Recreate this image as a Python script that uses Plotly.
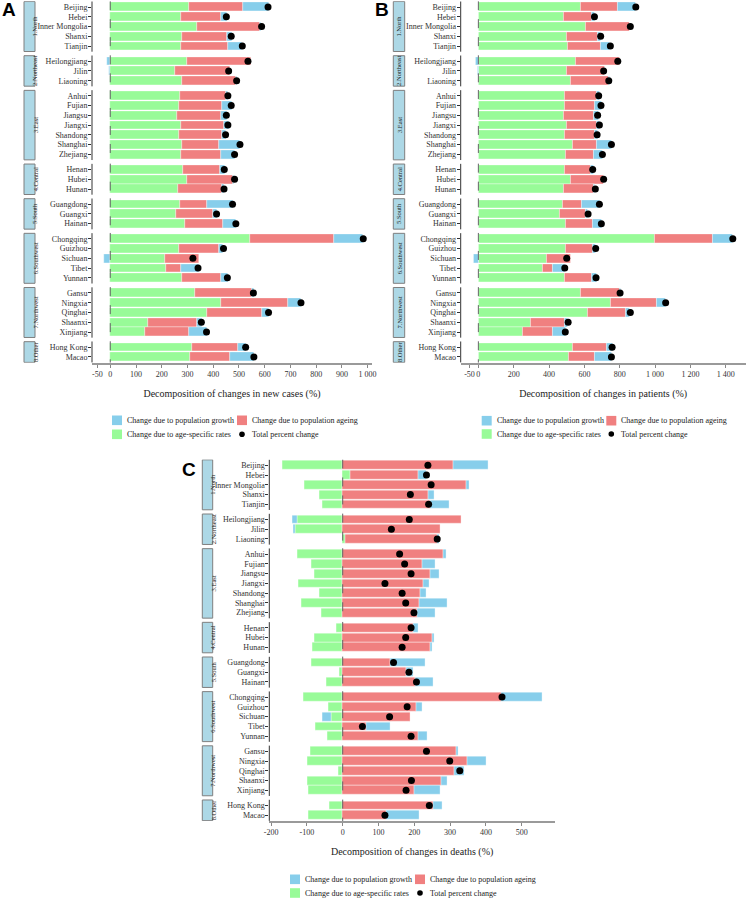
import plotly.graph_objects as go

W, H = 747, 899

provinces = ["Beijing", "Hebei", "Inner Mongolia", "Shanxi", "Tianjin",
             "Heilongjiang", "Jilin", "Liaoning",
             "Anhui", "Fujian", "Jiangsu", "Jiangxi", "Shandong", "Shanghai", "Zhejiang",
             "Henan", "Hubei", "Hunan",
             "Guangdong", "Guangxi", "Hainan",
             "Chongqing", "Guizhou", "Sichuan", "Tibet", "Yunnan",
             "Gansu", "Ningxia", "Qinghai", "Shaanxi", "Xinjiang",
             "Hong Kong", "Macao"]
regions = ["1.North", "2.Northeast", "3.East", "4.Central", "5.South",
           "6.Southwest", "7.Northwest", "8.Other"]
region_sizes = [5, 3, 7, 3, 3, 5, 5, 2]

# Panel A: new cases
cases_rates = [306, 275, 337, 278, 273, 298, 251, 278, 272, 267, 259, 275, 268, 280, 276,
               284, 299, 264, 271, 255, 289, 544, 267, 212, 216, 277, 329, 430, 376, 145, 135,
               317, 310]
cases_ageing = [209, 155, 245, 177, 184, 250, 214, 209, 177, 167, 171, 167, 166, 144, 155,
                143, 179, 171, 106, 143, 149, 325, 157, 134, 60, 153, 223, 260, 215, 193, 169,
                179, 154]
cases_growth = [100, 22, 5, 17, 56, -13, -5, 5, 7, 40, 22, 18, 15, 79, 53,
                17, 4, 5, 100, 17, 50, 114, 15, -23, 67, 27, 5, 51, 26, 17, 73,
                31, 94]
cases_total = [613, 451, 588, 470, 513, 535, 460, 491, 457, 470, 451, 457, 448, 504, 483,
               443, 483, 442, 475, 413, 488, 983, 440, 321, 341, 455, 556, 741, 615, 354, 374,
               526, 558]

# Panel B: patients
pat_rates = [581, 481, 608, 502, 506, 549, 500, 525, 491, 491, 481, 502, 491, 532, 496,
             487, 525, 485, 479, 462, 496, 1000, 492, 389, 366, 491, 577, 751, 617, 296, 249,
             536, 513]
pat_ageing = [210, 159, 247, 173, 188, 253, 215, 211, 181, 169, 174, 166, 166, 140, 155,
              147, 183, 170, 106, 146, 149, 328, 157, 136, 57, 151, 223, 260, 219, 195, 174,
              192, 147]
pat_growth = [100, 20, 3, 17, 51, -15, -4, 5, 12, 38, 24, 17, 16, 81, 52,
              16, 3, 6, 102, 12, 53, 113, 17, -25, 66, 25, 3, 49, 22, 17, 70,
              34, 94]
pat_total = [891, 657, 860, 692, 747, 789, 709, 738, 681, 694, 675, 685, 672, 753, 702,
             647, 709, 662, 685, 621, 696, 1440, 664, 500, 489, 666, 802, 1060, 860, 508, 492,
             757, 753]

# Panel C: deaths
death_rates = [-168, 21, -107, -66, -57, -128, -133, 7, -128, -87, -78, -125, -66, -117, -61,
               -18, -80, -84, -88, -10, -47, -111, -41, -33, -76, -43, -91, -100, -12, -100, -96,
               -37, -97]
death_ageing = [310, 191, 346, 238, 245, 330, 273, 257, 282, 223, 245, 226, 217, 213, 207,
                198, 251, 244, 133, 179, 203, 444, 206, 188, 67, 210, 318, 349, 311, 275, 201,
                252, 121]
death_growth = [97, 22, 8, 18, 53, -14, -5, 6, 7, 37, 24, 17, 17, 80, 53,
                12, 5, 6, 98, 17, 51, 114, 16, -23, 65, 25, 6, 51, 28, 18, 72,
                27, 94]
death_total = [238, 234, 247, 189, 240, 186, 136, 264, 159, 173, 191, 118, 166, 176, 199,
               191, 176, 166, 142, 185, 206, 445, 180, 131, 55, 191, 234, 299, 327, 192, 177,
               242, 118]

ticks_A = [-50, 0, 100, 200, 300, 400, 500, 600, 700, 800, 900, 1000]
ticks_B = [-50, 0, 200, 400, 600, 800, 1000, 1200, 1400]
ticks_C = [-200, -100, 0, 100, 200, 300, 400, 500]

legend_labels = ["Change due to population growth", "Change due to population ageing",
                 "Change due to age-specific rates", "Total percent change"]

C_GREEN, C_RED, C_BLUE = "#98FB98", "#F08080", "#87CEEB"
SERIF = "Liberation Serif"
SANS = "Liberation Sans"

# row positions (facet-like groups)
pos = []
groups = []
p = -1.55
for n in region_sizes:
    p += 1.55
    first = p
    pos.append(p)
    for k in range(1, n):
        p += 1
        pos.append(p)
    groups.append((first, p))
ymax = pos[-1]


def fmt(v):
    s = f"{abs(v):,}".replace(",", " ")
    return ("-" if v < 0 else "") + s


def px_x(v):
    return v / W


def px_y(v):
    return 1 - v / H


panels = [
    dict(sfx="", data=(cases_rates, cases_ageing, cases_growth, cases_total),
         xdom=(92, 372), ytop=1.15, rng=[-71, 1017], ticks=ticks_A,
         title="Decomposition of changes in new cases (%)",
         strip=(24, 35), letter="A", letter_xy=(0, -3),
         leg_sym=(117, 242), leg_txt=(126, 250.7), leg_y=(420.3, 434.3)),
    dict(sfx="2", data=(pat_rates, pat_ageing, pat_growth, pat_total),
         xdom=(460.7, 745.7), ytop=1.15, rng=[-100, 1513], ticks=ticks_B,
         title="Decomposition of changes in patients (%)",
         strip=(393.3, 404.7), letter="B", letter_xy=(373, -3),
         leg_sym=(486.7, 611.3), leg_txt=(495.7, 620), leg_y=(420.7, 434)),
    dict(sfx="3", data=(death_rates, death_ageing, death_growth, death_total),
         xdom=(269.3, 555), ytop=459.45, rng=[-205, 593], ticks=ticks_C,
         title="Decomposition of changes in deaths (%)",
         strip=(202.3, 212.7), letter="C", letter_xy=(180, 457),
         leg_sym=(295, 420), leg_txt=(304.3, 429), leg_y=(879.3, 893)),
]

fig = go.Figure()
shapes = []
annotations = []
layout = {}
row_px = 9.76
span_units = ymax + 1.2
bar_line = dict(color="rgba(255,255,255,0.7)", width=0.5)

for pn in panels:
    sfx = pn["sfx"]
    xa, ya = "x" + sfx, "y" + sfx
    rates, ageing, growth, total = pn["data"]
    fig.add_trace(go.Bar(x=rates, y=pos, orientation="h", xaxis=xa, yaxis=ya, width=0.9,
                         marker=dict(color=C_GREEN, line=bar_line),
                         name=legend_labels[2], showlegend=False))
    fig.add_trace(go.Bar(x=ageing, y=pos, orientation="h", xaxis=xa, yaxis=ya, width=0.9,
                         marker=dict(color=C_RED, line=bar_line),
                         name=legend_labels[1], showlegend=False))
    fig.add_trace(go.Bar(x=growth, y=pos, orientation="h", xaxis=xa, yaxis=ya, width=0.9,
                         marker=dict(color=C_BLUE, line=bar_line),
                         name=legend_labels[0], showlegend=False))
    fig.add_trace(go.Scatter(x=total, y=pos, mode="markers", xaxis=xa, yaxis=ya,
                             marker=dict(color="black", size=7),
                             name=legend_labels[3], showlegend=False))

    x0, x1 = pn["xdom"]
    ytop = pn["ytop"]
    ybot = ytop + span_units * row_px
    layout["xaxis" + sfx] = dict(
        domain=[px_x(x0), px_x(x1)], anchor=ya, range=pn["rng"],
        tickvals=pn["ticks"], ticktext=[fmt(v) for v in pn["ticks"]], tickangle=0,
        ticks="outside", ticklen=3, tickcolor="#888", tickwidth=1,
        showline=True, linecolor="#9a9a9a", linewidth=1.5,
        showgrid=False, zeroline=False,
        tickfont=dict(family=SERIF, size=8, color="#333"),
        title=dict(text=pn["title"], font=dict(family=SERIF, size=10, color="#222"), standoff=12),
    )
    layout["yaxis" + sfx] = dict(
        domain=[px_y(ybot), px_y(ytop)], anchor=xa, range=[ymax + 0.6, -0.6],
        tickvals=pos, ticktext=provinces, ticks="outside", ticklen=3,
        tickcolor="#333", tickwidth=1, showline=False, showgrid=False, zeroline=False,
        ticklabelstandoff=-1,
        tickfont=dict(family=SERIF, size=8, color="#333"),
    )

    s0, s1 = pn["strip"]
    for (g0, g1), rname in zip(groups, regions):
        shapes.append(dict(type="line", xref="paper", yref=ya,
                           x0=px_x(x0), x1=px_x(x0), y0=g0 - 0.58, y1=g1 + 0.58,
                           line=dict(color="#333", width=1)))
        shapes.append(dict(type="line", xref=xa, yref=ya, x0=0, x1=0,
                           y0=g0 - 0.6, y1=g1 + 0.6,
                           line=dict(color="#666", width=1, dash="dash")))
        shapes.append(dict(type="rect", xref="paper", yref=ya,
                           x0=px_x(s0), x1=px_x(s1), y0=g0 - 0.56, y1=g1 + 0.56,
                           fillcolor="#ADD8E6", line=dict(color="#7f7f7f", width=1),
                           layer="above"))
        annotations.append(dict(xref="paper", yref=ya, x=px_x((s0 + s1) / 2), y=(g0 + g1) / 2,
                                text=rname, textangle=-90, showarrow=False,
                                font=dict(family=SERIF, size=6.5, color="#1a1a1a")))
    lx, ly = pn["letter_xy"]
    annotations.append(dict(xref="paper", yref="paper", x=px_x(lx), y=px_y(ly),
                            xanchor="left", yanchor="top", text="<b>" + pn["letter"] + "</b>",
                            showarrow=False, font=dict(family=SANS, size=19, color="black")))

    # legend (two rows x two columns) below each panel
    sx = pn["leg_sym"]
    tx = pn["leg_txt"]
    ly_ = pn["leg_y"]
    keys = [(C_BLUE, "sq", 0, 0), (C_RED, "sq", 1, 0), (C_GREEN, "sq", 0, 1), ("black", "dot", 1, 1)]
    for lab, (col, kind, ci, ri) in zip(legend_labels, keys):
        cx, cy = sx[ci], ly_[ri]
        if kind == "sq":
            shapes.append(dict(type="rect", xref="paper", yref="paper",
                               x0=px_x(cx - 5), x1=px_x(cx + 5),
                               y0=px_y(cy + 4.8), y1=px_y(cy - 4.8),
                               fillcolor=col, line=dict(width=0)))
        else:
            shapes.append(dict(type="circle", xref="paper", yref="paper",
                               x0=px_x(cx - 2.8), x1=px_x(cx + 2.8),
                               y0=px_y(cy + 2.8), y1=px_y(cy - 2.8),
                               fillcolor=col, line=dict(width=0)))
        annotations.append(dict(xref="paper", yref="paper", x=px_x(tx[ci] - 1), y=px_y(cy),
                                xanchor="left", yanchor="middle", text=lab, showarrow=False,
                                font=dict(family=SERIF, size=8, color="#222")))

fig.update_layout(
    width=W, height=H, margin=dict(l=0, r=0, t=0, b=0, autoexpand=False),
    paper_bgcolor="white", plot_bgcolor="white",
    barmode="relative", bargap=0, showlegend=False,
    shapes=shapes, annotations=annotations,
    **layout,
)

fig.write_html("out.html", config={"displayModeBar": False},
               post_script="document.body.style.margin='0';")
